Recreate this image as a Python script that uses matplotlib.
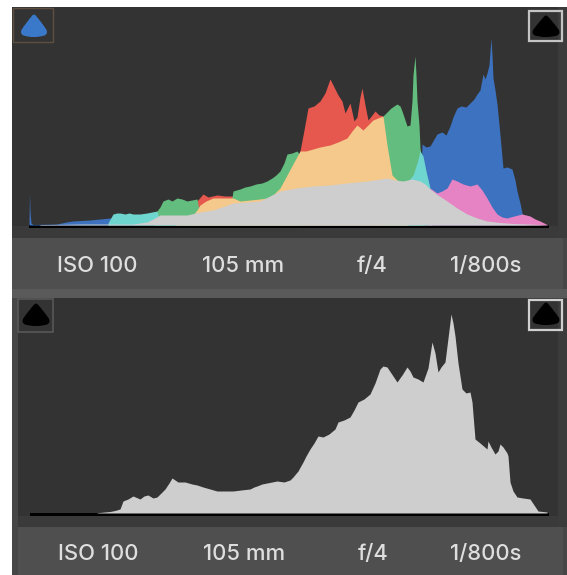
import matplotlib
matplotlib.use("Agg")
import matplotlib.pyplot as plt
from matplotlib.patches import Rectangle, PathPatch
from matplotlib.path import Path

W, H = 567, 575

# Top histogram: x in histogram units (pixel columns), heights above baseline
blue_x = [29, 29.5, 30, 31, 33, 57, 66, 73, 90, 110, 125, 150, 420, 422, 426, 430, 434, 437, 442, 446, 450, 453, 457, 461, 466, 470, 474, 477, 480, 483, 485, 487, 489, 491, 492, 493, 495, 497, 500, 503, 507, 512, 515, 517, 520, 522, 526]
blue_y = [2, 32, 14, 2, 0.5, 1, 3, 4, 5, 7, 8, 5, 10, 81, 78, 79, 86, 91, 93, 90, 99, 108, 117, 119, 118, 122, 126, 131, 135, 151, 146, 152, 160, 187, 170, 147, 135, 121, 90, 57, 58, 56, 45, 34, 22, 12, 0]

red_x = [190, 197, 203, 208, 217, 225, 233, 238, 296, 300, 304, 308, 314, 320, 325, 330, 334, 338, 342, 345, 350, 354, 357, 360, 362, 365, 368, 372, 375, 379, 383, 386]
red_y = [0, 24, 31, 28, 30, 29, 29, 0, 60, 74, 95, 117, 119, 124, 132, 146, 138, 130, 124, 112, 122, 104, 108, 128, 137, 120, 105, 110, 114, 110, 109, 0]

green_x = [154, 157, 160, 163, 168, 172, 177, 182, 187, 192, 197, 200, 230, 233, 240, 245, 250, 256, 262, 267, 272, 276, 280, 284, 287, 292, 297, 300, 301, 382, 383, 387, 391, 394, 397, 400, 402, 405, 407, 410, 412, 413, 415, 416, 417, 419, 420, 423, 424]
green_y = [8, 14, 18, 24, 26, 24, 27, 26, 24, 25, 26, 10, 15, 34, 36, 38, 39, 41, 42, 44, 47, 50, 54, 62, 71, 72, 74, 70, 0, 0, 109, 113, 117, 119, 121, 119, 114, 105, 99, 100, 124, 150, 169, 150, 124, 100, 77, 60, 0]

cyan_x = [108, 113, 117, 120, 125, 129, 133, 140, 147, 152, 157, 159, 405, 408, 413, 417, 420, 423, 426, 430, 432]
cyan_y = [2, 11, 12, 12, 11, 12, 11, 11, 12, 13, 14, 6, 30, 44, 50, 62, 74, 69, 54, 37, 20]

pink_x = [428, 430, 437, 442, 447, 452, 457, 463, 470, 477, 482, 487, 492, 497, 502, 507, 514, 522, 526, 530, 535, 540, 544, 548]
pink_y = [20, 37, 32, 34, 37, 46, 44, 41, 39, 41, 35, 27, 18, 11, 8, 7, 9, 11, 10, 9, 6, 4, 2, 0]

yellow_x = [176, 185, 193, 197, 200, 206, 213, 222, 233, 240, 250, 260, 267, 274, 280, 287, 294, 300, 306, 313, 320, 330, 338, 347, 352, 357, 363, 368, 373, 378, 383, 387, 392, 397, 403, 408]
yellow_y = [5, 8, 10, 15, 20, 24, 27, 27, 27, 24, 25, 26, 27, 31, 37, 50, 63, 74, 74, 76, 78, 80, 83, 87, 94, 100, 95, 100, 105, 107, 109, 80, 50, 45, 42, 0]

gray_x = [40, 50, 83, 100, 133, 147, 153, 160, 170, 187, 200, 213, 222, 233, 247, 260, 270, 280, 296, 313, 330, 347, 367, 387, 395, 403, 412, 420, 425, 430, 438, 447, 457, 467, 477, 487, 500, 513, 530, 547]
gray_y = [0.5, 0.5, 1, 1, 1, 3, 6, 10, 10, 10, 13, 15, 18, 22, 23, 24, 29, 34, 37, 39, 40, 42, 44, 47, 45, 44, 46, 44, 41, 36, 30, 24, 17, 11, 7, 4, 2.5, 1.5, 1, 0]

# Bottom histogram
lum_x = [97, 110, 115, 120, 123, 128, 133, 140, 144, 148, 153, 157, 161, 165, 169, 172, 175, 178, 185, 192, 197, 203, 210, 217, 225, 233, 241, 250, 254, 257, 262, 267, 272, 277, 284, 290, 293, 298, 303, 306, 310, 314, 318, 323, 329, 335, 338, 344, 350, 354, 358, 364, 370, 375, 380, 383, 387, 391, 397, 402, 407, 410, 413, 418, 423, 428, 432, 435, 438, 441, 445, 448, 451, 453, 455, 458, 462, 466, 470, 472, 475, 480, 487, 488, 491, 495, 498, 500, 503, 507, 508, 510, 513, 517, 523, 530, 534, 538, 547]
lum_y = [0.3, 1.5, 2.5, 4, 12, 14, 17, 14, 17, 18, 15, 16, 20, 24, 30, 35, 33, 31, 31, 29, 28, 26, 24, 22, 22, 22, 23, 24, 26, 27, 29, 30, 31, 32, 31, 33, 36, 42, 51, 57, 64, 70, 77, 76, 79, 84, 91, 93, 96, 103, 111, 114, 119, 130, 144, 147, 146, 140, 131, 138, 146, 142, 136, 134, 131, 145, 171, 160, 141, 146, 151, 175, 199, 190, 177, 150, 124, 120, 121, 111, 74, 70, 64, 72, 66, 59, 62, 69, 66, 60, 57, 31, 22, 16, 15, 14, 8, 2, 1]

labels = ["ISO 100", "105 mm", "f/4", "1/800s"]
label_x_top = [97, 243, 372, 486]
label_x_bottom = [98, 244, 373, 486]

GRAY_PANEL = "#333333"
BAR = "#4f4f4f"
TEXT = "#dedede"

fig = plt.figure(figsize=(W / 100, H / 100), dpi=100, facecolor="white")
bg = fig.add_axes([0, 0, 1, 1])
bg.set_xlim(0, W)
bg.set_ylim(H, 0)
bg.axis("off")

def rect(x0, y0, x1, y1, color, **kw):
    bg.add_patch(Rectangle((x0, y0), x1 - x0, y1 - y0, facecolor=color, edgecolor="none", **kw))

rect(12, 7, 567, 575, "#464646")
rect(12, 7, 558, 238, GRAY_PANEL)
rect(12, 226, 558, 238, "#3a3a3a")
rect(558, 7, 567, 238, "#3b3b3b")
rect(12, 238, 563, 289, BAR)
rect(12, 289, 567, 298, "#5a5a5a")
rect(18, 298, 558, 527, GRAY_PANEL)
rect(18, 516, 558, 527, "#3a3a3a")
rect(558, 298, 567, 527, "#3b3b3b")
rect(18, 527, 563, 575, BAR)

for x, t in zip(label_x_top, labels):
    bg.text(x, 266, t, color=TEXT, fontsize=15.8, family="Inter", weight="medium", ha="center", va="center")
for x, t in zip(label_x_bottom, labels):
    bg.text(x, 554.5, t, color=TEXT, fontsize=15.8, family="Inter", weight="medium", ha="center", va="center")

def icon(cx, top, width, height, color):
    w = width / 2
    h = height
    pts = [(-.12, .06), (0, -.02), (.12, .06), (.55, .35), (.92, .68), (1.05, .85), (.8, .93),
           (0, 1.08), (-.8, .93), (-1.05, .85), (-.92, .68), (-.55, .35), (-.12, .06)]
    verts = [(cx + a * w, top + b * h) for a, b in pts]
    codes = [Path.MOVETO] + [Path.CURVE3] * 12
    bg.add_patch(PathPatch(Path(verts, codes), facecolor=color, edgecolor="none", zorder=5))

def box(x0, y0, x1, y1, color, lw):
    bg.add_patch(Rectangle((x0, y0), x1 - x0, y1 - y0, facecolor="none", edgecolor=color, linewidth=lw, zorder=5))

box(13, 8, 53, 42, "#5e5040", 1.0)
icon(34, 14, 27, 23, "#3a78c9")
box(529, 11, 562, 41, "#c4c4c4", 1.6)
icon(546, 15, 28, 22, "#000000")
box(17.5, 298.5, 53, 332, "#585858", 1.2)
icon(36, 303, 28, 23, "#000000")
box(529, 300, 562, 330, "#d0d0d0", 1.6)
icon(546, 302, 28, 23, "#000000")

def hist_axes(x0, x1, top, base):
    ax = fig.add_axes([x0 / W, 1 - base / H, (x1 - x0) / W, (base - top) / H])
    ax.set_xlim(x0, x1)
    ax.set_ylim(0, base - top)
    ax.axis("off")
    return ax

top = hist_axes(29, 549, 20, 225)
top.fill_between(blue_x, blue_y, color="#3c72bf", lw=0)
top.fill_between(red_x, red_y, color="#e6574e", lw=0)
top.fill_between(green_x, green_y, color="#63bd7e", lw=0)
top.fill_between(cyan_x, cyan_y, color="#6fd6cf", lw=0)
top.fill_between(pink_x, pink_y, color="#e583c4", lw=0)
top.fill_between(yellow_x, yellow_y, color="#f4c98b", lw=0)
top.fill_between(gray_x, gray_y, color="#cecece", lw=0)
rect(29, 225, 549, 227.5, "#000000", zorder=6)

bot = hist_axes(29, 549, 305, 513)
bot.fill_between(lum_x, lum_y, color="#cecece", lw=0)
rect(30, 513, 549, 516, "#000000", zorder=6)

fig.savefig("out.png", dpi=100, facecolor="white")
